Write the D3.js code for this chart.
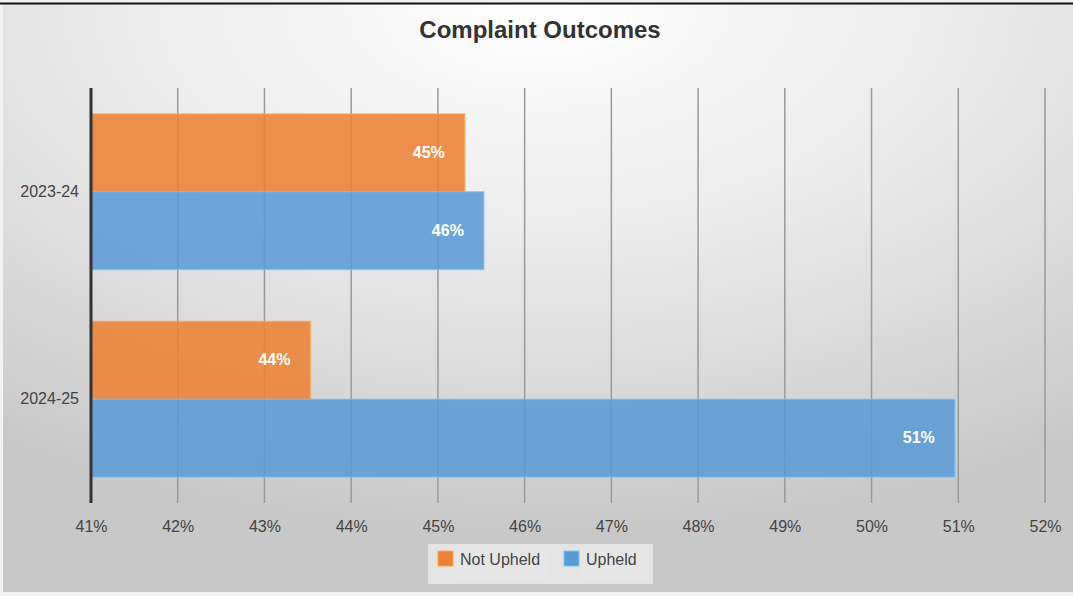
<!DOCTYPE html>
<html><head><meta charset="utf-8">
<script src="https://cdn.jsdelivr.net/npm/d3@7"></script>
<style>body{margin:0;padding:0;overflow:hidden;}svg{display:block;font-family:"Liberation Sans",Arial,sans-serif;}</style>
</head><body>
<svg id="c" width="1073" height="596"></svg>
<script>
const categories = ["2023-24", "2024-25"];
const seriesNames = ["Not Upheld", "Upheld"];
const notUpheld = [45.31, 43.53];
const upheld = [45.53, 50.96];
const notUpheldLabels = ["45%", "44%"];
const upheldLabels = ["46%", "51%"];
const tickValues = [41,42,43,44,45,46,47,48,49,50,51,52];
const colors = ["#ed8236", "#5b9bd5"];

const svg = d3.select("#c");
const W = 1073, H = 596;
const defs = svg.append("defs");
const rg = defs.append("radialGradient").attr("id","bg").attr("cx","50%").attr("cy","0%").attr("r","90%")
  .attr("gradientUnits","objectBoundingBox");
rg.append("stop").attr("offset","0%").attr("stop-color","#ffffff");
rg.append("stop").attr("offset","50%").attr("stop-color","#e8e8e8");
rg.append("stop").attr("offset","100%").attr("stop-color","#c8c8c8");
svg.append("rect").attr("x",0).attr("y",0).attr("width",W).attr("height",H).attr("fill","#f2f2f2");
svg.append("rect").attr("x",3).attr("y",4).attr("width",W-3).attr("height",H-8).attr("fill","url(#bg)");
svg.append("line").attr("x1",0).attr("x2",W).attr("y1",3.5).attr("y2",3.5).attr("stroke","#111").attr("stroke-width",2);

svg.append("text").attr("x",540).attr("y",38).attr("text-anchor","middle")
  .attr("font-size",24).attr("font-weight","bold").attr("fill","#333").text("Complaint Outcomes");

const x = d3.scaleLinear().domain([41,52]).range([91,1045]);
const y0 = d3.scaleBand().domain(categories).range([88,503]).paddingInner(0.25).paddingOuter(0.125);
const y1 = d3.scaleBand().domain(seriesNames).range([0, y0.bandwidth()]);

// gridlines
svg.append("g").selectAll("line").data(tickValues.slice(1)).join("line")
  .attr("x1",d=>x(d)).attr("x2",d=>x(d)).attr("y1",88).attr("y2",503)
  .attr("stroke","#999").attr("stroke-width",1.5);

// x axis labels
const xAxis = d3.axisBottom(x).tickValues(tickValues).tickFormat(d=>d+"%").tickSize(0).tickPadding(0);
const gx = svg.append("g").attr("transform","translate(0,532)").call(xAxis);
gx.select(".domain").remove();
gx.selectAll("text").attr("font-size",16).attr("fill","#444").attr("font-family","Liberation Sans, Arial, sans-serif").attr("dy","0");

// y axis labels
const yAxis = d3.axisLeft(y0).tickSize(0).tickPadding(0);
const gy = svg.append("g").attr("transform","translate(79,0)").call(yAxis);
gy.select(".domain").remove();
gy.selectAll("text").attr("font-size",16).attr("fill","#444").attr("font-family","Liberation Sans, Arial, sans-serif");

const rows = categories.map((c,i)=>({cat:c, vals:[
  {s:seriesNames[0], v:notUpheld[i], lab:notUpheldLabels[i], col:colors[0]},
  {s:seriesNames[1], v:upheld[i], lab:upheldLabels[i], col:colors[1]}]}));

const gRows = svg.append("g").selectAll("g").data(rows).join("g")
  .attr("transform",d=>`translate(0,${y0(d.cat)})`);
gRows.selectAll("rect").data(d=>d.vals).join("rect")
  .attr("x",x(41)).attr("y",d=>y1(d.s)).attr("width",d=>x(d.v)-x(41)).attr("height",y1.bandwidth())
  .attr("fill",d=>d.col).attr("fill-opacity",0.88)
  .attr("stroke",d=>d3.color(d.col).brighter(0.6)).attr("stroke-opacity",0.6).attr("stroke-width",1.5);
gRows.selectAll("text").data(d=>d.vals).join("text")
  .attr("x",d=>x(d.v)-20).attr("y",d=>y1(d.s)+y1.bandwidth()/2+5)
  .attr("text-anchor","end").attr("font-size",16).attr("font-weight","bold").attr("fill","#fff").text(d=>d.lab);

// axis line
svg.append("line").attr("x1",x(41)).attr("x2",x(41)).attr("y1",88).attr("y2",503)
  .attr("stroke","#333").attr("stroke-width",3);

// legend
const lg = svg.append("g");
lg.append("rect").attr("x",428).attr("y",544).attr("width",225).attr("height",40).attr("fill","#ebebeb").attr("opacity",0.8);
const items = [{n:seriesNames[0],c:colors[0],x:438,w:92},{n:seriesNames[1],c:colors[1],x:564,w:66}];
items.forEach(it=>{
  lg.append("rect").attr("x",it.x+17).attr("y",552).attr("width",it.w).attr("height",28).attr("fill","#e6e6e6");
  lg.append("rect").attr("x",it.x).attr("y",551).attr("width",15).attr("height",15)
    .attr("fill",it.c).attr("stroke",d3.color(it.c).brighter(0.7)).attr("stroke-width",1);
  lg.append("text").attr("x",it.x+22).attr("y",565).attr("font-size",16).attr("fill","#444").text(it.n);
});
</script>
</body></html>
